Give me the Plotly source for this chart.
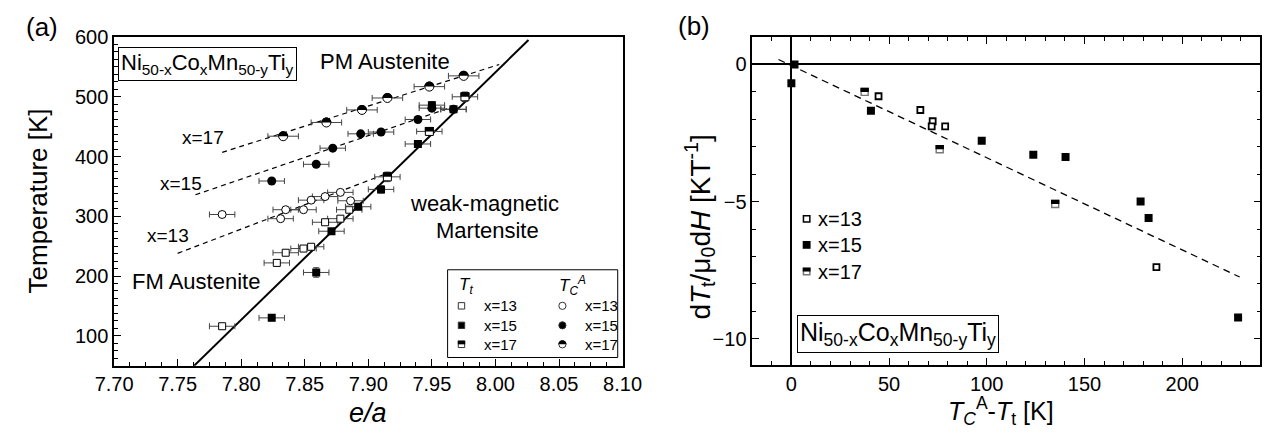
import plotly.graph_objects as go

W, H = 1282, 434
FONT = "Liberation Sans, Arial, Helvetica, sans-serif"

# ---------------- Panel (a): transition / Curie temperatures vs e/a ----------------
# x = 13  (open symbols)
ea_t13 = [7.785, 7.828, 7.835, 7.849, 7.855, 7.866, 7.878, 7.885]
tt_13 = [116, 222, 239, 246, 249, 290, 296, 311]
ea_c13 = [7.785, 7.831, 7.835, 7.849, 7.855, 7.866, 7.878, 7.886]
tc_13 = [303, 296, 311, 311, 327, 333, 340, 326]

# x = 15  (filled symbols)
ea_t15 = [7.824, 7.859, 7.871, 7.892, 7.910, 7.939, 7.950, 7.967]
tt_15 = [130, 206, 275, 316, 345, 421, 486, 479]
tt_15_err = [5, 8, 0, 0, 6, 5, 6, 0]
ea_c15 = [7.824, 7.859, 7.872, 7.894, 7.910, 7.939, 7.950, 7.967]
tc_15 = [359, 387, 414, 438, 441, 462, 481, 479]

# x = 17  (half-filled symbols)
ea_t17 = [7.915, 7.948, 7.976]
tt_17 = [366, 442, 500]
tt_17_err = [8, 6, 8]
ea_c17 = [7.833, 7.867, 7.895, 7.915, 7.948, 7.975]
tc_17 = [434, 457, 478, 498, 517, 535]

ea_err = 0.010
ea_err17 = 0.012

# guide lines
fit_tt_ea = [7.763, 8.026]
fit_tt_T = [50, 595]
fit13_ea = [7.750, 7.915]
fit13_T = [238, 372]
fit15_ea = [7.764, 7.962]
fit15_T = [336, 480]
fit17_ea = [7.785, 8.003]
fit17_T = [407, 554]

# ---------------- Panel (b): dTt/mu0dH vs TC^A - Tt ----------------
dT_13 = [44.6, 66.0, 72.3, 71.8, 78.7, 186.8]
slope_13 = [-1.16, -1.66, -2.07, -2.26, -2.26, -7.39]
dT_15 = [1.6, 0.0, 40.7, 97.4, 123.8, 140.3, 178.7, 182.8, 228.6]
slope_15 = [0.0, -0.69, -1.69, -2.78, -3.29, -3.37, -5.0, -5.6, -9.23]
dT_17 = [37.5, 75.9, 135.0]
slope_17 = [-1.0, -3.09, -5.09]
fitb_x = [-6.6, 229.4]
fitb_y = [0.18, -7.75]

legend_labels = ["x=13", "x=15", "x=17"]


def px(x):
    return x / W


def py(y):
    return 1 - y / H


def half_shape(xref, yref, xa, ya, kind, r, color="black"):
    base = dict(xref=xref, yref=yref, xsizemode="pixel", ysizemode="pixel",
                xanchor=xa, yanchor=ya, fillcolor=color, line=dict(width=0),
                layer="above")
    if kind == "square":
        base.update(type="rect", x0=-r, x1=r, y0=0, y1=r)
    else:
        k = 0.5523 * r
        base.update(type="path",
                    path=f"M{-r},0 C{-r},{k} {-k},{r} 0,{r} C{k},{r} {r},{k} {r},0 Z")
    return base


def sym_shape(xref, yref, xa, ya, kind, r, fill, lcol="black", lw=1.0):
    return dict(type="rect" if kind == "square" else "circle",
                xref=xref, yref=yref, xsizemode="pixel", ysizemode="pixel",
                xanchor=xa, yanchor=ya, x0=-r, x1=r, y0=-r, y1=r,
                fillcolor=fill, line=dict(color=lcol, width=lw), layer="above")


fig = go.Figure()
ebar = dict(color="#444", thickness=1, width=3)

# ---- panel (a) lines
fig.add_trace(go.Scatter(x=fit_tt_ea, y=fit_tt_T, mode="lines",
                         line=dict(color="black", width=2), xaxis="x", yaxis="y"))
for fx, fy in [(fit13_ea, fit13_T), (fit15_ea, fit15_T), (fit17_ea, fit17_T)]:
    fig.add_trace(go.Scatter(x=fx, y=fy, mode="lines",
                             line=dict(color="black", width=1.2, dash="5px,4px"),
                             xaxis="x", yaxis="y"))

# ---- panel (a) markers
fig.add_trace(go.Scatter(x=ea_c13, y=tc_13, mode="markers", xaxis="x", yaxis="y",
                         marker=dict(symbol="circle", size=8, color="white",
                                     line=dict(color="black", width=1)),
                         error_x=dict(type="constant", value=ea_err, **ebar)))
fig.add_trace(go.Scatter(x=ea_c15, y=tc_15, mode="markers", xaxis="x", yaxis="y",
                         marker=dict(symbol="circle", size=9, color="black"),
                         error_x=dict(type="constant", value=ea_err, **ebar)))
fig.add_trace(go.Scatter(x=ea_c17, y=tc_17, mode="markers", xaxis="x", yaxis="y",
                         marker=dict(symbol="circle", size=9, color="white",
                                     line=dict(color="black", width=1)),
                         error_x=dict(type="constant", value=ea_err17, **ebar)))
fig.add_trace(go.Scatter(x=ea_t13, y=tt_13, mode="markers", xaxis="x", yaxis="y",
                         marker=dict(symbol="square", size=7, color="white",
                                     line=dict(color="black", width=1)),
                         error_x=dict(type="constant", value=ea_err, **ebar)))
fig.add_trace(go.Scatter(x=ea_t15, y=tt_15, mode="markers", xaxis="x", yaxis="y",
                         marker=dict(symbol="square", size=8, color="black"),
                         error_x=dict(type="constant", value=ea_err, **ebar),
                         error_y=dict(type="data", array=tt_15_err, **ebar)))
fig.add_trace(go.Scatter(x=ea_t17, y=tt_17, mode="markers", xaxis="x", yaxis="y",
                         marker=dict(symbol="square", size=8, color="white",
                                     line=dict(color="black", width=1)),
                         error_x=dict(type="constant", value=ea_err, **ebar),
                         error_y=dict(type="data", array=tt_17_err, **ebar)))

# ---- panel (b)
fig.add_trace(go.Scatter(x=fitb_x, y=fitb_y, mode="lines", xaxis="x2", yaxis="y2",
                         line=dict(color="black", width=1.3, dash="7px,5px")))
fig.add_trace(go.Scatter(x=dT_13, y=slope_13, mode="markers", xaxis="x2", yaxis="y2",
                         marker=dict(symbol="square", size=6, color="white",
                                     line=dict(color="black", width=1.8))))
fig.add_trace(go.Scatter(x=dT_15, y=slope_15, mode="markers", xaxis="x2", yaxis="y2",
                         marker=dict(symbol="square", size=8, color="black")))
fig.add_trace(go.Scatter(x=dT_17, y=slope_17, mode="markers", xaxis="x2", yaxis="y2",
                         marker=dict(symbol="square", size=7, color="white",
                                     line=dict(color="#777", width=1.4))))

shapes = []
# half fills in data coordinates
for xv, yv in zip(ea_c17, tc_17):
    shapes.append(half_shape("x", "y", xv, yv, "circle", 5.0))
for xv, yv in zip(ea_t17, tt_17):
    shapes.append(half_shape("x", "y", xv, yv, "square", 4.5))
for xv, yv in zip(dT_17, slope_17):
    shapes.append(half_shape("x2", "y2", xv, yv, "square", 4.2))

annotations = []


def ann(text, x, y, size, xanchor="center", yanchor="middle", **kw):
    annotations.append(dict(text=text, x=px(x), y=py(y), xref="paper", yref="paper",
                            showarrow=False, xanchor=xanchor, yanchor=yanchor,
                            font=dict(family=FONT, size=size, color="black"), **kw))


# ---- panel (a) legend box
LA_X0, LA_X1, LA_Y0, LA_Y1 = 441.7, 617, 265.5, 355.5
shapes.append(dict(type="rect", xref="paper", yref="paper",
                   x0=px(LA_X0), x1=px(LA_X1), y0=py(LA_Y1), y1=py(LA_Y0),
                   fillcolor="white", line=dict(color="black", width=1), layer="above"))
rows = [302.5, 322.5, 342.0]
col1, col2 = 456, 560
ann("<i>T</i><sub><i>t</i></sub>", col1 - 5, 282, 17, xanchor="left")
ann("<i>T</i><sub><i>C</i></sub><sup><i>A</i></sup>", col2 - 6, 282, 17, xanchor="left")
for i, (lab, yy) in enumerate(zip(legend_labels, rows)):
    ann(lab, col1 + 21, yy, 15, xanchor="left")
    ann(lab, col2 + 21, yy, 15, xanchor="left")
    fill = "black" if i == 1 else "white"
    shapes.append(sym_shape("paper", "paper", px(col1), py(yy), "square", 3.2, fill, "#333", 1))
    shapes.append(sym_shape("paper", "paper", px(col2), py(yy), "circle", 3.6, fill, "#333", 1))
    if i == 2:
        shapes.append(half_shape("paper", "paper", px(col1), py(yy), "square", 3.7))
        shapes.append(half_shape("paper", "paper", px(col2), py(yy), "circle", 4.1))

# ---- panel (b) legend
LB_X = 811.7
rows_b = [213.3, 240.0, 267.3]
for i, (lab, yy) in enumerate(zip(legend_labels, rows_b)):
    fill = "black" if i == 1 else "white"
    lc = "#777" if i == 2 else "black"
    shapes.append(sym_shape("paper", "paper", px(LB_X), py(yy), "square", 3.2, fill, lc, 1.5))
    if i == 2:
        shapes.append(half_shape("paper", "paper", px(LB_X), py(yy), "square", 3.9))
    ann(lab, LB_X + 10, yy, 20, xanchor="left")

# ---- text labels
ann("(a)", 24, 16, 26)
ann("(b)", 696, 15, 26)
ann("Ni<sub>50-x</sub>Co<sub>x</sub>Mn<sub>50-y</sub>Ti<sub>y</sub>", 194.5, 54.5, 22,
    bordercolor="black", borderwidth=1, borderpad=2, bgcolor="white")
ann("PM Austenite", 376.7, 52.3, 22)
ann("x=17", 190, 129.3, 19)
ann("x=15", 167.3, 176.7, 19)
ann("x=13", 153.3, 230.7, 19)
ann("FM Austenite", 182.7, 277.3, 22)
ann("weak-magnetic", 480, 197, 22)
ann("Martensite", 483, 225, 22)
ann("Ni<sub>50-x</sub>Co<sub>x</sub>Mn<sub>50-y</sub>Ti<sub>y</sub>", 906, 331.7, 25,
    bordercolor="black", borderwidth=1, borderpad=2, bgcolor="white")

# axis titles
ann("Temperature [K]", 20, 195, 26, textangle=-90)
ann("<i>e/a</i>", 360, 412, 27)
ann("<i>T</i><sub><i>C</i></sub><sup>A</sup>-<i>T</i><sub>t</sub> [K]", 1012, 410, 25)
ann("d<i>T</i><sub>t</sub>/μ<sub>0</sub>d<i>H</i> [KT<sup>-1</sup>]", 702, 222, 28, textangle=-90)

axis_common = dict(showgrid=False, zeroline=False, showline=True, linecolor="black",
                   linewidth=1.5, ticks="inside", tickcolor="black", tickwidth=1.2,
                   ticklen=7, tickfont=dict(family=FONT, size=20, color="black"))

ydom_a = [py(363.9), py(26.7)]
ydom_b = [py(363.0), py(26.7)]
fig.update_layout(
    width=W, height=H, margin=dict(l=0, r=0, t=0, b=0),
    paper_bgcolor="white", plot_bgcolor="white", showlegend=False,
    font=dict(family=FONT, color="black"),
    xaxis=dict(domain=[px(98), px(622)], range=[7.70, 8.10], dtick=0.05, tick0=7.70,
               tickformat=".2f", anchor="y", mirror=True,
               minor=dict(dtick=0.0125, ticklen=4, ticks="inside", tickcolor="black"),
               **axis_common),
    yaxis=dict(domain=ydom_a, range=[50, 600], dtick=100, tick0=0, anchor="x", mirror=True,
               minor=dict(dtick=12.5, ticklen=4, ticks="inside", tickcolor="black"),
               **axis_common),
    xaxis2=dict(domain=[px(755.7), px(1279.3)], range=[-20, 240], dtick=50, tick0=0,
                anchor="y2", mirror="ticks",
                minor=dict(dtick=10, ticklen=4, ticks="inside", tickcolor="black"),
                **{**axis_common, "zeroline": True}, zerolinecolor="black", zerolinewidth=1.5),
    yaxis2=dict(domain=ydom_b, range=[-10.95, 1], dtick=5, tick0=0, anchor="x2", mirror="ticks",
                minor=dict(dtick=1, ticklen=4, ticks="inside", tickcolor="black"),
                **{**axis_common, "zeroline": True}, zerolinecolor="black", zerolinewidth=1.5),
    shapes=shapes,
    annotations=annotations,
)

fig.write_html("out.html", config={"displayModeBar": False},
               post_script="document.body.style.margin='0px';"
                           "document.body.style.overflow='hidden';")
